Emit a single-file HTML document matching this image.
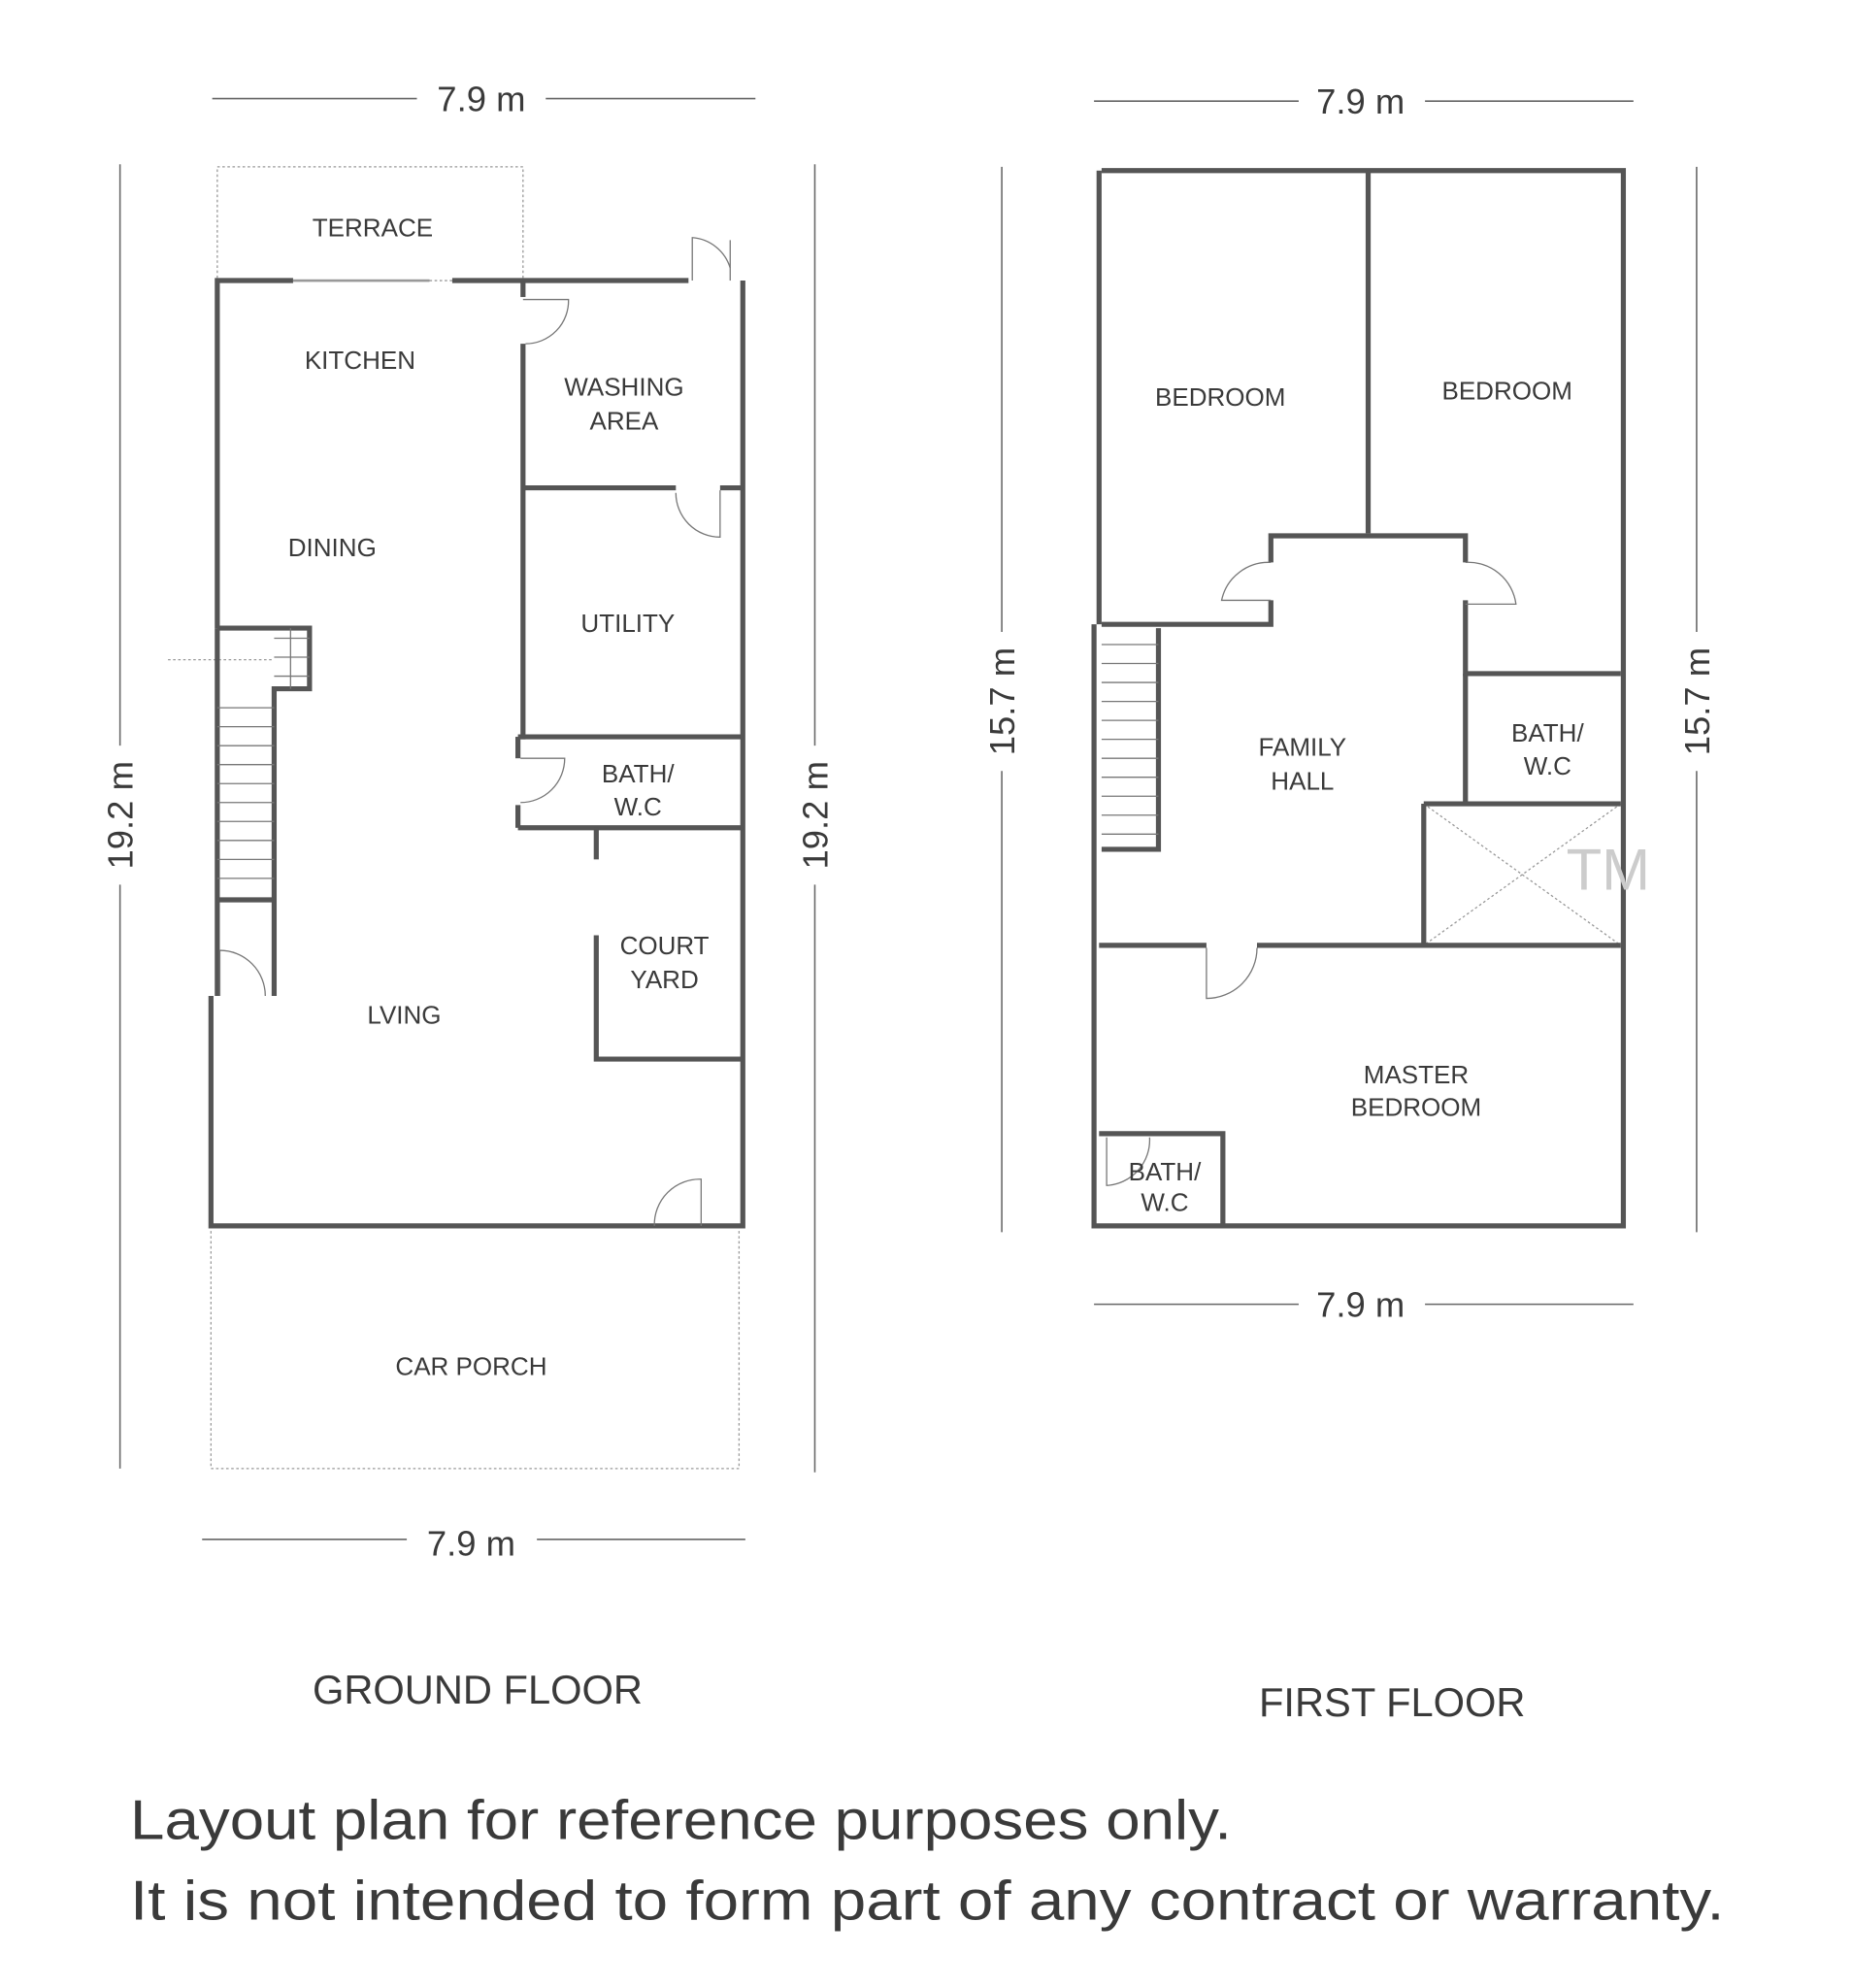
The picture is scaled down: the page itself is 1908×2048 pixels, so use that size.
<!DOCTYPE html>
<html><head><meta charset="utf-8"><style>
html,body{margin:0;padding:0;background:#fff;}
svg{display:block}
text{font-family:"Liberation Sans",sans-serif;fill:#3a3a3a}
</style></head><body>
<svg width="1908" height="2048" viewBox="0 0 1466 1573" preserveAspectRatio="none" xmlns="http://www.w3.org/2000/svg">
<g stroke="#666" stroke-width="1.2" fill="none">
<line x1="168" y1="78" x2="330" y2="78"/><line x1="432" y1="78" x2="598" y2="78"/>
<line x1="95" y1="130" x2="95" y2="590"/><line x1="95" y1="700" x2="95" y2="1162"/>
<line x1="645" y1="130" x2="645" y2="590"/><line x1="645" y1="700" x2="645" y2="1165"/>
<line x1="160" y1="1218" x2="322" y2="1218"/><line x1="425" y1="1218" x2="590" y2="1218"/>
<line x1="866" y1="80" x2="1028" y2="80"/><line x1="1128" y1="80" x2="1293" y2="80"/>
<line x1="793" y1="132" x2="793" y2="500"/><line x1="793" y1="610" x2="793" y2="975"/>
<line x1="1343" y1="132" x2="1343" y2="500"/><line x1="1343" y1="610" x2="1343" y2="975"/>
<line x1="866" y1="1032" x2="1028" y2="1032"/><line x1="1128" y1="1032" x2="1293" y2="1032"/>
</g>
<g stroke="#999" stroke-width="1" fill="none" stroke-dasharray="2,2">
<rect x="172" y="132" width="242" height="90"/>
<path d="M167 970 V1162 H585 V970"/>
<line x1="215" y1="522" x2="132" y2="522"/>
<line x1="1127" y1="636" x2="1283" y2="748"/><line x1="1283" y1="636" x2="1127" y2="748"/>
</g>
<g stroke="#555" stroke-width="4" fill="none">
<path d="M232 222 H172 V497"/><path d="M358 222 H545"/><line x1="232" y1="222" x2="340" y2="222" stroke="#999" stroke-width="2"/>
<path d="M588 222 V970 H167 V788"/>
<path d="M414 222 V235"/><path d="M414 272 V585"/>
<path d="M414 386 H535"/><path d="M570 386 H588"/>
<path d="M410 583 H588"/><path d="M410 655 H588"/><path d="M410 583 V600"/><path d="M410 637 V655"/>
<path d="M472 655 V680"/><path d="M472 740 V838 H588"/>
<path d="M172 497 H245 V545 H217 V788"/><path d="M172 497 V788"/><path d="M172 712 H217"/>
<path d="M872 135 H1285 V970 H866 V494"/><path d="M870 494 V135"/>
<path d="M1083 135 V422"/>
<path d="M872 494 H1006 V475"/><path d="M1006 445 V424 H1160 V445"/><path d="M1160 475 V533 H1283"/>
<path d="M1160 533 V636"/><path d="M1127 636 H1283"/><path d="M1127 636 V748"/>
<path d="M870 748 H955"/><path d="M995 748 H1283"/>
<path d="M917 497 V672 H872"/>
<path d="M870 897 H968 V970"/>
</g>
<g stroke="#777" stroke-width="1" fill="none">
<path d="M172 560 H217 M172 575 H217 M172 590 H217 M172 605 H217 M172 620 H217 M172 635 H217 M172 650 H217 M172 665 H217 M172 680 H217 M172 695 H217"/>
<path d="M217 505 H245 M217 520 H245 M217 535 H245 M230 497 V545"/>
<path d="M872 510 H917 M872 525 H917 M872 540 H917 M872 555 H917 M872 570 H917 M872 585 H917 M872 600 H917 M872 615 H917 M872 630 H917 M872 645 H917 M872 660 H917"/>
<path d="M548 222 V188 A34 34 0 0 1 578 212"/><path d="M578 190 V222"/>
<path d="M414 237 H450 A34 34 0 0 1 416 272"/>
<path d="M570 388 V425 A35 35 0 0 1 535 390"/>
<path d="M412 600 H447 A35 35 0 0 1 412 635"/>
<path d="M518 970 A36 36 0 0 1 555 933 V970"/>
<path d="M174 788 V752 A36 36 0 0 1 210 788"/>
<path d="M1006 445 A38 38 0 0 0 967 475 H1006"/>
<path d="M1160 445 A38 38 0 0 1 1200 478 H1160"/>
<path d="M955 750 V790 A40 40 0 0 0 995 750"/>
<path d="M876 900 V938 A36 36 0 0 0 910 900"/>
</g>
<g font-size="20" text-anchor="middle">
<text x="295" y="187">TERRACE</text>
<text x="285" y="292">KITCHEN</text>
<text x="263" y="440">DINING</text>
<text x="494" y="313">WASHING</text><text x="494" y="340">AREA</text>
<text x="497" y="500">UTILITY</text>
<text x="505" y="619">BATH/</text><text x="505" y="645">W.C</text>
<text x="526" y="755">COURT</text><text x="526" y="782">YARD</text>
<text x="320" y="810">LVING</text>
<text x="373" y="1088">CAR PORCH</text>
<text x="966" y="321">BEDROOM</text>
<text x="1193" y="316">BEDROOM</text>
<text x="1031" y="598">FAMILY</text><text x="1031" y="625">HALL</text>
<text x="1225" y="587">BATH/</text><text x="1225" y="613">W.C</text>
<text x="1121" y="857">MASTER</text><text x="1121" y="883">BEDROOM</text>
<text x="922" y="934">BATH/</text><text x="922" y="958">W.C</text>
</g>
<text x="1273" y="704" font-size="46" text-anchor="middle" style="fill:#ccc">TM</text>
<g font-size="28" text-anchor="middle">
<text x="381" y="88">7.9 m</text>
<text x="1077" y="90">7.9 m</text>
<text x="373" y="1231">7.9 m</text>
<text x="1077" y="1042">7.9 m</text>
<text transform="translate(105 645) rotate(-90)">19.2 m</text>
<text transform="translate(655 645) rotate(-90)">19.2 m</text>
<text transform="translate(803 555) rotate(-90)">15.7 m</text>
<text transform="translate(1353 555) rotate(-90)">15.7 m</text>
</g>
<g font-size="32" text-anchor="middle">
<text x="378" y="1348">GROUND FLOOR</text>
<text x="1102" y="1358">FIRST FLOOR</text>
</g>
<g font-size="44" style="fill:#111">
<text x="103" y="1455" textLength="872" lengthAdjust="spacingAndGlyphs">Layout plan for reference purposes only.</text>
<text x="103" y="1519" textLength="1262" lengthAdjust="spacingAndGlyphs">It is not intended to form part of any contract or warranty.</text>
</g>
</svg>
</body></html>
